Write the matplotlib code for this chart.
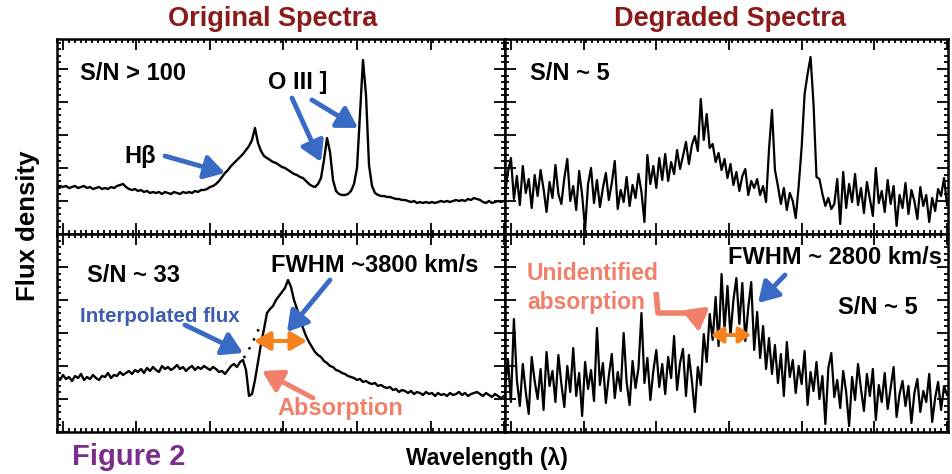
import numpy as np
import matplotlib.pyplot as plt
from matplotlib.ticker import MultipleLocator

# Evenly sampled wavelength grid (Angstrom)
WAVE_START = 4592.0
WAVE_STEP = 4.08

# Original spectrum, top panel (S/N > 100), arbitrary flux units
orig_top = [
    4.7, 4.8, 4.7, 4.8, 4.6, 4.7, 4.8, 4.6, 4.7, 4.8,
    4.6, 4.7, 4.5, 4.6, 4.7, 4.5, 4.6, 4.5, 4.7, 4.6,
    4.8, 4.9, 5.0, 4.7, 4.5, 4.4, 4.5, 4.3, 4.4, 4.2,
    4.3, 4.1, 4.2, 4.1, 4.2, 4.0, 4.2, 4.1, 4.0, 4.2,
    4.1, 4.0, 4.2, 4.1, 4.2, 4.1, 4.3, 4.2, 4.4, 4.4,
    4.5, 4.7, 4.8, 5.0, 5.3, 5.7, 6.1, 6.4, 6.8, 7.1,
    7.4, 7.7, 8.0, 8.4, 8.8, 9.4, 10.6, 9.1, 8.3, 7.8,
    7.6, 7.4, 7.2, 7.1, 6.9, 6.7, 6.6, 6.4, 6.2, 6.0,
    5.9, 5.7, 5.6, 5.3, 5.0, 4.8, 4.7, 5.0, 5.6, 7.4,
    9.6, 8.2, 5.4, 4.3, 4.0, 3.9, 3.9, 4.0, 4.3, 5.0,
    6.6, 12.1, 17.4, 13.9, 6.9, 4.8, 4.1, 3.9, 3.8, 3.8,
    3.7, 3.7, 3.6, 3.5, 3.5, 3.4, 3.4, 3.3, 3.2, 3.3,
    3.1, 3.2, 3.1, 3.2, 3.1, 3.2, 3.1, 3.2, 3.3, 3.2,
    3.3, 3.2, 3.3, 3.4, 3.3, 3.4, 3.3, 3.5, 3.4, 3.6,
    3.5, 3.4, 3.2, 3.1, 3.3, 3.1, 3.2, 3.3, 3.2, 3.3,
]

# Degraded spectrum, top panel (S/N ~ 5)
degr_top = [
    4.0, 6.2, 7.6, 3.5, 5.8, 2.9, 6.8, 4.1, 5.5, 2.6,
    5.9, 3.8, 6.4, 4.5, 2.2, 5.2, 3.6, 6.9, 4.0, 3.0,
    5.6, 7.5, 3.3, 4.8, 2.4, 6.3, 3.9, 0.5, 5.0, 6.6,
    3.1, 5.4, 2.7, 4.6, 6.1, 3.4, 5.1, 7.3, 2.5, 4.4,
    3.2, 5.7, 2.8, 4.9, 3.6, 6.0, 4.2, 1.2, 7.9, 5.0,
    6.8, 4.6, 7.6, 5.4, 8.0, 5.3, 7.2, 6.0, 8.4, 6.5,
    7.8, 9.2, 7.0, 8.9, 9.8, 8.3, 13.5, 9.4, 12.0, 8.6,
    9.0, 7.2, 8.1, 6.4, 7.5, 5.6, 7.0, 4.9, 6.2, 4.3,
    5.8, 6.5, 3.9, 5.3, 4.6, 5.5, 3.9, 4.8, 3.2, 8.5,
    12.4, 6.4, 4.8, 3.0, 4.6, 2.4, 4.1, 3.3, 1.6, 4.8,
    8.7, 14.0, 16.0, 17.7, 13.0, 5.7, 5.5, 4.0, 2.8, 3.6,
    2.5, 3.0, 5.5, 1.0, 6.2, 2.6, 5.0, 3.2, 6.0, 2.9,
    4.6, 2.1, 5.2, 3.5, 1.8, 6.6, 3.1, 4.3, 2.2, 5.4,
    3.0, 4.8, 0.8, 3.9, 2.6, 5.1, 2.0, 4.4, 3.3, 1.5,
    4.7, 2.8, 3.9, 1.2, 3.6, 2.3, 4.5, 3.8, 5.6, 2.9,
]

# Original spectrum, bottom panel (S/N ~ 33)
orig_bottom = [
    5.6, 5.2, 5.7, 5.3, 5.5, 5.1, 5.6, 5.4, 5.8, 5.2,
    5.5, 5.3, 5.7, 5.4, 5.2, 5.6, 5.5, 5.9, 5.4, 5.7,
    5.6, 6.0, 5.7, 5.9, 6.1, 5.8, 6.2, 6.0, 6.3, 5.9,
    6.4, 6.1, 6.5, 6.2, 6.0, 6.6, 6.3, 6.5, 6.2, 6.4,
    6.7, 6.3, 6.5, 6.1, 6.4, 6.6, 6.2, 6.5, 6.3, 6.6,
    6.4, 6.2, 6.5, 6.3, 6.0, 6.1, 5.8, 6.2, 6.6, 6.8,
    6.5, 7.0, 7.2, 6.2, 3.6, 3.8, 5.2, 7.0, 8.8, 10.3,
    11.9, 12.3, 12.6, 13.2, 13.6, 14.0, 14.4, 15.2, 14.5, 13.2,
    12.3, 11.4, 10.4, 9.6, 9.0, 8.5, 8.0, 7.7, 7.5, 7.1,
    6.9, 6.6, 6.5, 6.2, 6.1, 5.9, 5.8, 5.6, 5.5, 5.4,
    5.2, 5.3, 5.0, 5.1, 4.9, 4.8, 4.9, 4.6, 4.7, 4.5,
    4.4, 4.5, 4.2, 4.3, 4.0, 4.2, 4.1, 3.9, 4.1, 3.8,
    4.0, 3.9, 3.7, 4.0, 3.8, 3.9, 3.6, 3.9, 3.7, 3.8,
    3.6, 3.9, 3.7, 3.8, 4.0, 3.7, 3.9, 3.6, 3.8, 3.9,
    4.0, 3.8, 3.6, 3.9, 3.7, 3.5, 3.8, 3.6, 3.4, 3.6,
]

# Interpolated flux across the absorption (dotted)
interp_wave = [4846, 4851, 4857, 4864, 4870]
interp_flux = [7.4, 8.0, 8.8, 9.9, 11.0]

# Degraded spectrum, bottom panel (S/N ~ 5)
degr_bottom = [
    4.5, 7.2, 3.0, 11.3, 5.2, 2.6, 6.8, 4.0, 1.8, 7.5,
    5.1, 3.3, 6.3, 2.2, 8.0, 4.6, 6.1, 3.0, 7.7, 4.8,
    2.5, 6.6, 4.0, 8.4, 3.6, 5.9, 1.6, 7.0, 4.3, 6.2,
    3.1, 10.4, 4.7, 6.9, 2.9, 5.6, 7.8, 3.4, 6.0, 4.1,
    9.9, 5.0, 2.7, 7.1, 4.4, 6.4, 11.9, 4.9, 7.4, 3.2,
    6.1, 8.2, 4.5, 6.8, 3.8, 7.5, 5.4, 9.6, 4.2, 6.9,
    8.3, 3.6, 7.7, 5.1, 2.0, 6.5, 4.7, 9.8, 7.0, 11.8,
    9.2, 13.5, 8.6, 15.8, 10.2, 14.6, 9.6, 13.2, 15.4, 10.8,
    14.9, 9.1, 12.4, 15.0, 8.2, 12.0, 7.4, 10.6, 6.3, 9.4,
    5.8, 8.7, 4.9, 7.8, 3.6, 9.0, 5.5, 7.2, 3.9, 6.6,
    4.8, 8.1, 2.7, 6.0, 4.1, 7.0, 3.3, 5.6, 0.8, 6.4,
    7.9, 3.5, 5.2, 2.4, 6.1, 4.0, 0.6, 5.5, 3.2, 6.8,
    4.3, 2.1, 5.8, 3.6, 6.3, 1.2, 4.7, 3.0, 5.9, 2.3,
    4.4, 6.5, 1.5, 3.8, 5.1, 2.6, 4.6, 0.9, 3.9, 5.3,
    2.0, 4.1, 3.0, 5.8, 1.0, 3.4, 5.0, 2.2, 4.6, 3.7,
]

W, H = 953, 474
BLUE = "#3a6bc4"
BLUE_TXT = "#3d5cae"
SALMON = "#f0806a"
ORANGE = "#f5821f"
DARKRED = "#8b1a1a"
PURPLE = "#7a2d8c"
FONT = ["Liberation Sans", "DejaVu Sans"]

wave = WAVE_START + WAVE_STEP * np.arange(len(orig_top))
xlim = (WAVE_START, WAVE_START + 448 * 1.36)

fig = plt.figure(figsize=(W / 100, H / 100), dpi=100)


def box(x0, y0, x1, y1):
    # pixel box -> figure fraction rect
    return [x0 / W, 1 - y1 / H, (x1 - x0) / W, (y1 - y0) / H]


def make_ax(rect, ylim):
    ax = fig.add_axes(rect)
    ax.set_xlim(*xlim)
    ax.set_ylim(*ylim)
    ax.xaxis.set_major_locator(MultipleLocator(100))
    ax.xaxis.set_minor_locator(MultipleLocator(8))
    ax.yaxis.set_major_locator(MultipleLocator(3.3))
    ax.yaxis.set_minor_locator(MultipleLocator(0.66))
    ax.tick_params(which="both", direction="in", top=True, right=True,
                   labelbottom=False, labelleft=False, width=1.3)
    ax.tick_params(which="major", length=8)
    ax.tick_params(which="minor", length=3)
    for s in ax.spines.values():
        s.set_linewidth(1.8)
    return ax


ax_tl = make_ax(box(57, 39, 505, 234), (0, 19.5))
ax_tr = make_ax(box(505, 39, 948, 234), (0, 19.5))
ax_bl = make_ax(box(57, 234, 505, 432), (0, 19.8))
ax_br = make_ax(box(505, 234, 948, 432), (0, 19.8))

ax_tl.plot(wave, orig_top, color="black", lw=1.7)
ax_tr.plot(wave, degr_top, color="black", lw=1.6)
ax_bl.plot(wave, orig_bottom, color="black", lw=1.7)
ax_bl.plot(interp_wave, interp_flux, color="black", lw=1.8, ls=(0, (1, 3)))
ax_br.plot(wave, degr_bottom, color="black", lw=1.6)

# overlay in pixel coordinates for labels and arrows
ov = fig.add_axes([0, 0, 1, 1], facecolor="none")
ov.set_xlim(0, W)
ov.set_ylim(H, 0)
ov.axis("off")


def label(x, y, s, size, color="black", **kw):
    ov.text(x, y, s, fontsize=size, color=color, fontweight="bold",
            family=kw.pop("family", FONT), ha=kw.pop("ha", "center"),
            va=kw.pop("va", "center"), **kw)


def arrow(tail, head, color, lw=3.5, ms=12,
          style="-|>,head_length=1.0,head_width=0.6"):
    ov.annotate("", xy=head, xytext=tail,
                arrowprops=dict(arrowstyle=style, color=color, lw=lw,
                                mutation_scale=ms, shrinkA=0, shrinkB=0))


# headers and axis titles
label(273, 19, "Original Spectra", 19.5, DARKRED)
label(730, 19, "Degraded Spectra", 19.5, DARKRED)
label(487, 459, "Wavelength (\u03bb)", 16.5)
label(28, 226, "Flux density", 18.5, rotation=90)
label(129, 457, "Figure 2", 21, PURPLE)

# top-left
label(80, 73, "S/N > 100", 17, ha="left")
label(298, 82, "O III ]", 17)
label(140, 157, "H\u03b2", 17)
arrow((165, 156), (225, 173), BLUE)
arrow((292, 98), (321, 162), BLUE)
arrow((312, 100), (358, 128), BLUE)

# top-right
label(530, 73, "S/N ~ 5", 17, ha="left")

# bottom-left
label(87, 275, "S/N ~ 33", 17, ha="left")
label(375, 265, "FWHM ~3800 km/s", 17)
label(80, 317, "Interpolated flux", 14.8, BLUE_TXT, ha="left")
arrow((185, 325), (243, 353), BLUE)
arrow((330, 280), (287, 332), BLUE)
arrow((254, 341), (307, 341), ORANGE, lw=3, ms=8,
      style="<|-|>,head_length=1.2,head_width=0.7")
label(340, 408, "Absorption", 17, SALMON)
arrow((313, 398), (262, 371), SALMON)

# bottom-right
label(835, 258, "FWHM ~ 2800 km/s", 17)
label(527, 273, "Unidentified", 16.5, SALMON, ha="left")
label(527, 302, "absorption", 16.5, SALMON, ha="left")
ov.plot([656, 658, 696], [292, 313, 313], color=SALMON, lw=4,
        solid_capstyle="butt")
arrow((696, 311), (699, 332), SALMON)
arrow((785, 275), (758, 303), BLUE)
arrow((711, 335), (751, 335), ORANGE, lw=2.8, ms=6,
      style="<|-|>,head_length=1.2,head_width=0.8")
label(838, 307, "S/N ~ 5", 17, ha="left")

fig.savefig("out.png", dpi=100)
